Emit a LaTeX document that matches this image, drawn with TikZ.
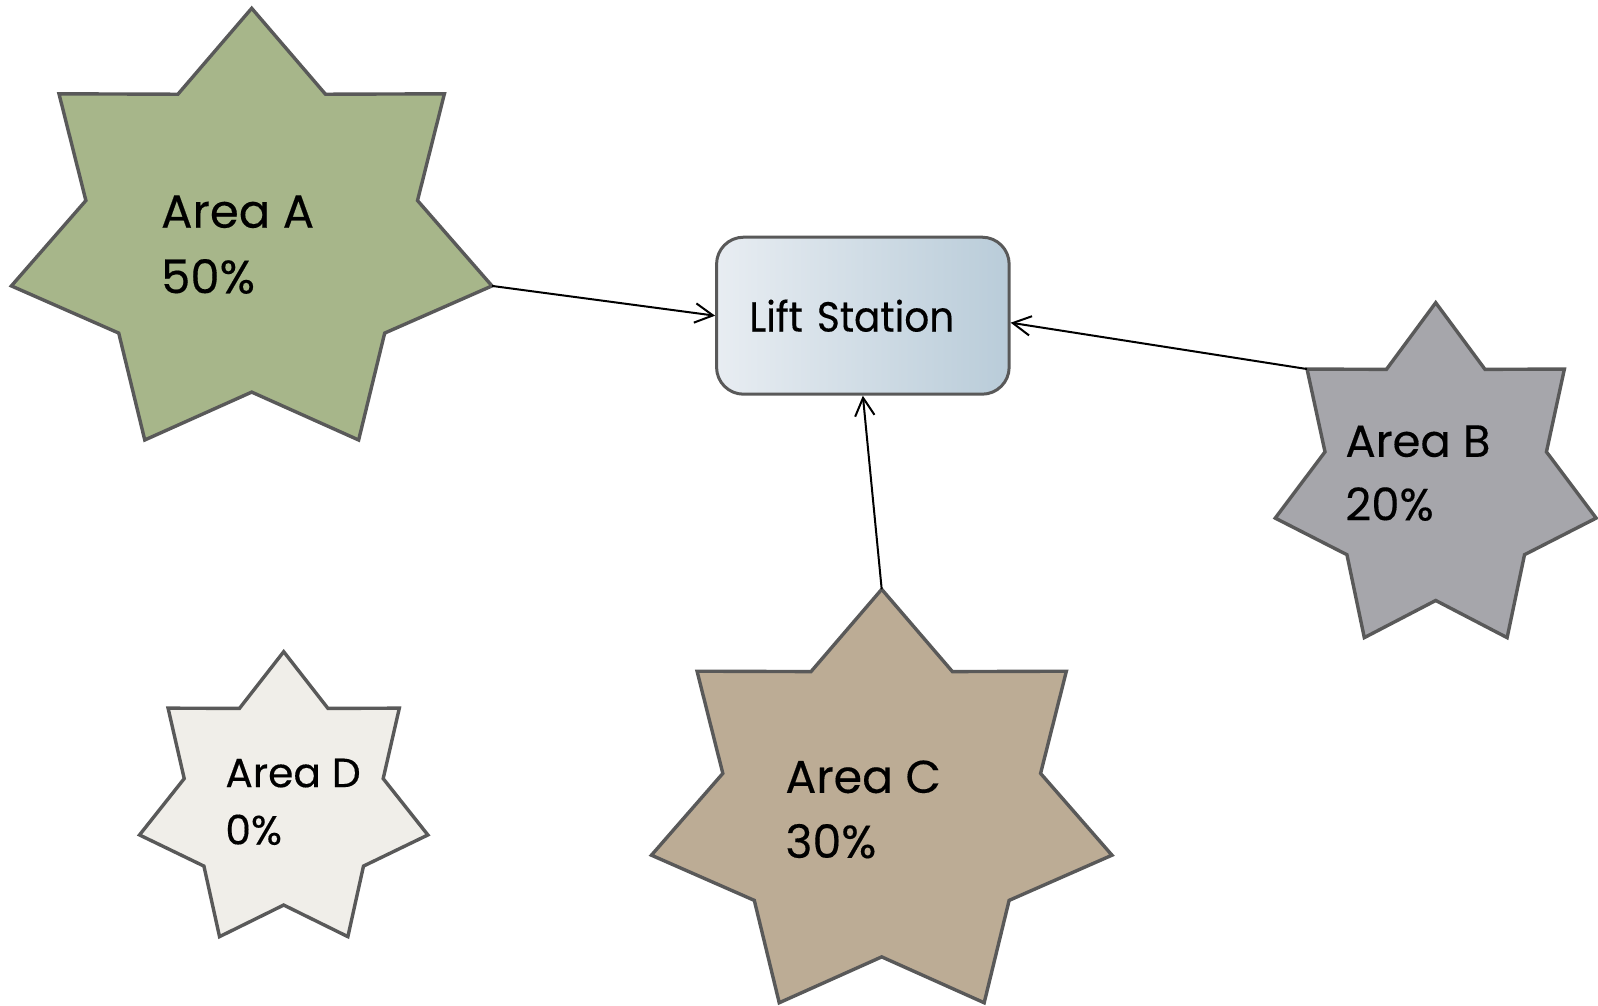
\documentclass[tikz,border=0pt]{standalone}
\usepackage{fontspec}
\setmainfont{Poppins}[FakeBold=0.3]
\newfontfamily\liftfont{Poppins}[FakeBold=0.3, FakeStretch=0.93]
\usetikzlibrary{arrows.meta}
\definecolor{agreen}{HTML}{A7B68A}
\definecolor{bgrey}{HTML}{A6A6AB}
\definecolor{ctan}{HTML}{BCAC95}
\definecolor{dcream}{HTML}{F0EEE9}
\definecolor{mline}{HTML}{595959}
\definecolor{liftl}{HTML}{E8EDF2}
\definecolor{liftr}{HTML}{B9CCD9}
\tikzset{starline/.style = {draw=mline, line width=1.7pt},
         areatext/.style = {anchor=north west, inner sep=0pt, align=left},
         flow/.style = {-{Straight Barb[length=9pt, width=9.7pt]}, line width=1pt}}

\begin{document}
\begin{tikzpicture}[x=0.5pt, y=-0.5pt]
      \useasboundingbox (0, 0) rectangle (1598, 1005);
      % area A
      \begin{scope}[shift={(251.7, 235.4)}, xscale=246.5, yscale=227.1]
        \draw [starline, fill=agreen] (270:1) \foreach \i in {1,...,13} {-- ({270+\i*360/14}:{1-0.31*mod(\i,2)})} -- cycle;
        \coordinate (aright) at (12.857:1);
      \end{scope}
      % area B
      \begin{scope}[shift={(1435.7, 478.9)}, xscale=164.6, yscale=176.2]
        \draw [starline, fill=bgrey] (270:1) \foreach \i in {1,...,13} {-- ({270+\i*360/14}:{1-0.31*mod(\i,2)})} -- cycle;
        \coordinate (bleft) at (218.571:1);
      \end{scope}
      % area C
      \begin{scope}[shift={(881.7, 806.8)}, xscale=236.2, yscale=217.5]
        \draw [starline, fill=ctan] (270:1) \foreach \i in {1,...,13} {-- ({270+\i*360/14}:{1-0.31*mod(\i,2)})} -- cycle;
        \coordinate (ctop) at (270:1);
      \end{scope}
      % area D
      \begin{scope}[shift={(283.7, 801.6)}, xscale=147.9, yscale=149.9]
        \draw [starline, fill=dcream] (270:1) \foreach \i in {1,...,13} {-- ({270+\i*360/14}:{1-0.31*mod(\i,2)})} -- cycle;
      \end{scope}
      \node (areaA) [areatext, font=\fontsize{23.3}{32.8}\selectfont] at (160.7, 195) {Area A\\50\%};
      \node (areaB) [areatext, font=\fontsize{22.5}{31.8}\selectfont] at (1345, 425) {Area B\\20\%};
      \node (areaC) [areatext, font=\fontsize{23}{32.5}\selectfont] at (785, 760) {Area C\\30\%};
      \node (areaD) [areatext, font=\fontsize{20.4}{28.7}\selectfont] at (225, 758.3) {Area D\\0\%};
      \node (lift) [draw=mline, line width=1.5pt, rounded corners=13.5pt, left color=liftl, right color=liftr,
                    minimum height=78.5pt, text width=113.5pt, inner xsep=16.4pt, align=left,
                    font=\liftfont\fontsize{21}{25}\selectfont] at (862.85, 315.7) {Lift Station};
      \draw [flow] (aright) -- (lift.west);
      \draw [flow] (bleft) -- ([yshift=-3.5pt]lift.east);
      \draw [flow] (ctop) -- (lift.south);
    \end{tikzpicture}
\end{document}
